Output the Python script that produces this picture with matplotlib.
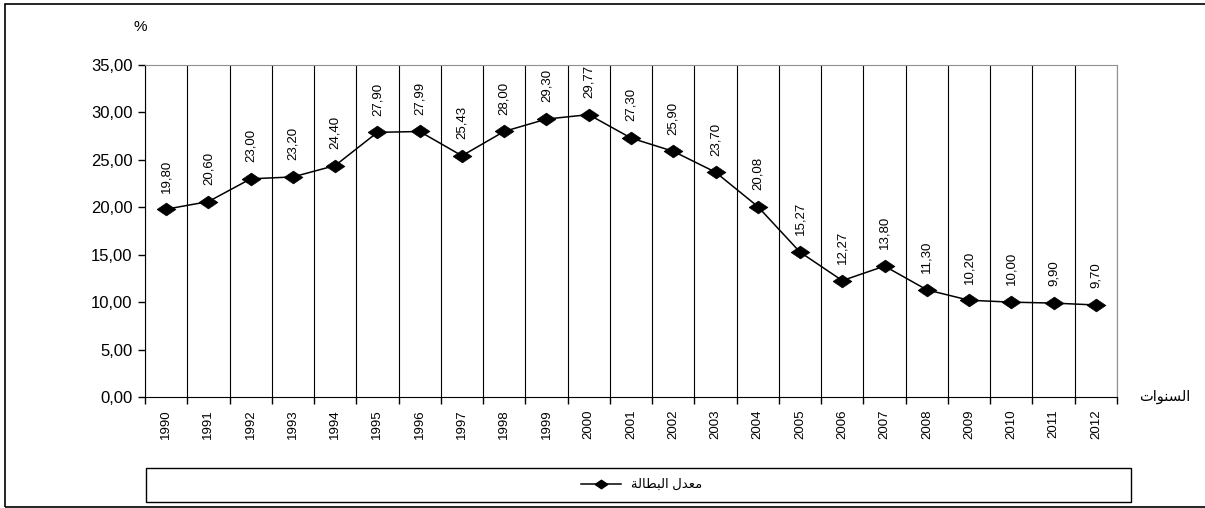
import matplotlib.pyplot as plt
import numpy as np
from matplotlib.patches import Rectangle
from matplotlib.lines import Line2D

plt.rcParams['font.family'] = ['Liberation Sans', 'DejaVu Sans']

years = ['1990', '1991', '1992', '1993', '1994', '1995', '1996', '1997', '1998', '1999',
         '2000', '2001', '2002', '2003', '2004', '2005', '2006', '2007', '2008', '2009',
         '2010', '2011', '2012']
rates = [19.80, 20.60, 23.00, 23.20, 24.40, 27.90, 27.99, 25.43, 28.00, 29.30,
         29.77, 27.30, 25.90, 23.70, 20.08, 15.27, 12.27, 13.80, 11.30, 10.20,
         10.00, 9.90, 9.70]
y_ticks = [0, 5, 10, 15, 20, 25, 30, 35]

# arabic text written in presentation forms, visual order (no shaping in matplotlib)
series_name = '\uFE94\uFEDF\uFE8E\uFEC4\uFE92\uFEDF\uFE8D \uFEDD\uFEAA\uFECC\uFEE3'   # معدل البطالة
x_title = '\uFE95\uFE8D\uFEEE\uFEE8\uFEB4\uFEDF\uFE8D'   # السنوات

# wide diamond (the original picture is stretched sideways)
diamond = [(-1, 0), (0, 0.68), (1, 0), (0, -0.68), (-1, 0)]

fig = plt.figure(figsize=(12.05, 5.08), dpi=100)
ax = fig.add_axes([145 / 1205, 1 - 397 / 508, 972 / 1205, 332 / 508])

x = np.arange(len(years))
ax.plot(x, rates, color='black', lw=1.1, marker=diamond, markersize=13.5,
        markerfacecolor='black', markeredgewidth=0.5, label=series_name, zorder=3)

for xi, v in zip(x, rates):
    ax.annotate(f'{v:.2f}'.replace('.', ','), (xi, v), xytext=(0, 12),
                textcoords='offset points', rotation=90, ha='center', va='bottom',
                fontsize=9.5, zorder=4)

ax.set_xlim(-0.5, len(years) - 0.5)
ax.set_ylim(0, 35)
ax.set_xticks(x)
ax.set_xticklabels(years, rotation=90, fontsize=9.5)
ax.tick_params(axis='x', which='major', length=0, pad=9)
ax.set_xticks(np.arange(-0.5, len(years), 1), minor=True)
ax.tick_params(axis='x', which='minor', length=5, width=1, color='black')
ax.grid(True, which='minor', axis='x', color='black', lw=0.8)

ax.set_yticks(y_ticks)
ax.set_yticklabels([f'{t:.2f}'.replace('.', ',') for t in y_ticks], fontsize=12)
ax.tick_params(axis='y', length=5, width=1, direction='out', pad=4)

ax.spines['left'].set_color('black')
ax.spines['bottom'].set_color('black')
ax.spines['top'].set_color('#909090')
ax.spines['right'].set_color('#909090')

fig.text(140 / 1205, 1 - 27 / 508, '%', fontsize=11, ha='center', va='center')
fig.text(1165 / 1205, 1 - 397 / 508, x_title, fontsize=10.5, ha='center', va='center')

# legend frame
fig.patches.append(Rectangle((146 / 1205, 1 - 502 / 508), (1131 - 146) / 1205, 34 / 508,
                             transform=fig.transFigure, fill=False, edgecolor='black', lw=1))
fig.legend(handles=[Line2D([0], [0], color='black', lw=1.1, marker=diamond, markersize=9,
                           label=series_name)],
           loc='center', bbox_to_anchor=(642 / 1205, 1 - 485 / 508), frameon=False,
           fontsize=9.5, handlelength=3, handletextpad=0.8)

# outer border
fig.patches.append(Rectangle((5 / 1205, 0.002), 1.2, 1 - 4 / 508 - 0.002,
                             transform=fig.transFigure, fill=False, edgecolor='black', lw=1.2))

fig.savefig('out.png', dpi=100)
